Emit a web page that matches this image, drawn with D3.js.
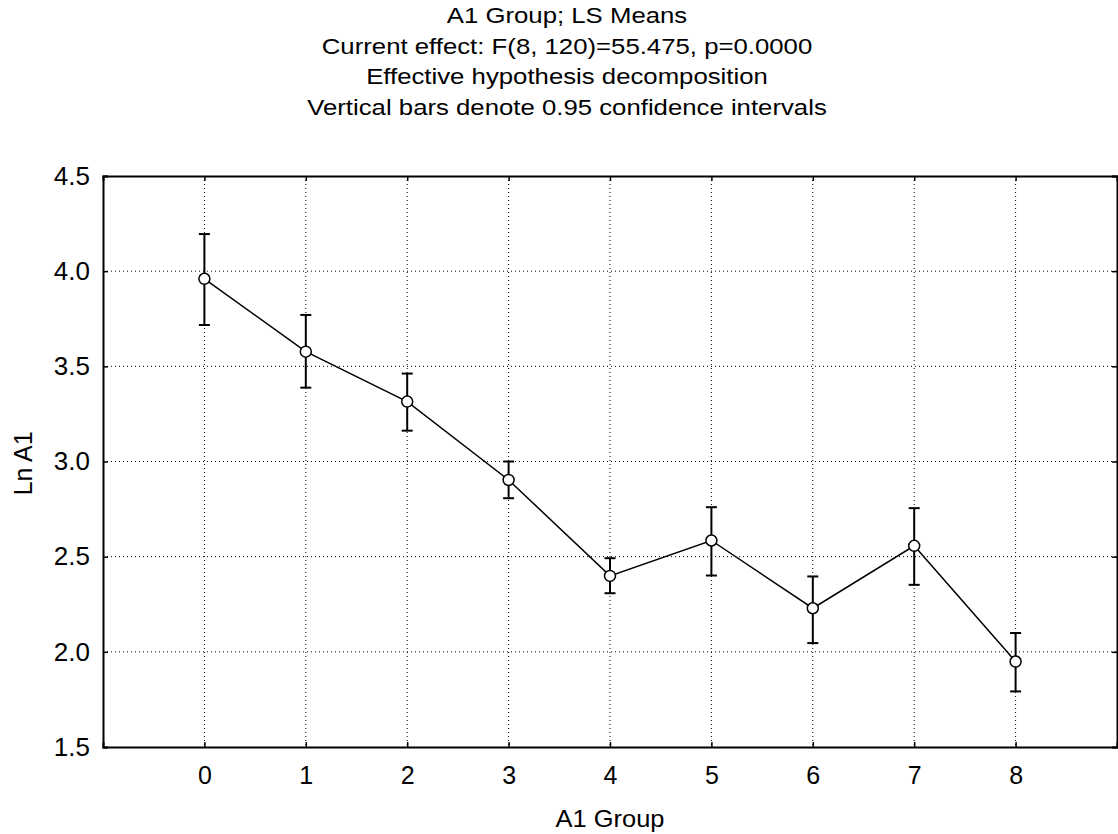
<!DOCTYPE html>
<html>
<head>
<meta charset="utf-8">
<script src="https://cdn.jsdelivr.net/npm/d3@7"></script>
<style>
  body { margin: 0; background: #fff; }
  svg { display: block; }
  text { font-family: "Liberation Sans", Arial, sans-serif; fill: #000; }
</style>
</head>
<body>
<div class="container"></div>
<script>
// chart data
var groups = [0, 1, 2, 3, 4, 5, 6, 7, 8];
var means = [3.96, 3.577, 3.315, 2.903, 2.399, 2.585, 2.229, 2.557, 1.949];
var upper = [4.195, 3.77, 3.462, 3.0, 2.492, 2.76, 2.396, 2.755, 2.099];
var lower = [3.717, 3.388, 3.162, 2.807, 2.308, 2.401, 2.046, 2.352, 1.792];
var yTicks = [1.5, 2.0, 2.5, 3.0, 3.5, 4.0, 4.5];
var titleLines = [
    "A1 Group; LS Means",
    "Current effect: F(8, 120)=55.475, p=0.0000",
    "Effective hypothesis decomposition",
    "Vertical bars denote 0.95 confidence intervals"
];

var loadChart = function () {
    const WIDTH = 1118;
    const HEIGHT = 834;
    var left = 103, right = 1117, top = 176, bottom = 747;

    var svg = d3.select('.container').append('svg')
        .attr('width', WIDTH)
        .attr('height', HEIGHT);

    var xScale = d3.scaleLinear().domain([-1, 9]).range([left, right]);
    var yScale = d3.scaleLinear().domain([1.5, 4.5]).range([bottom, top]);

    // titles (slightly wide lettering, as in the original)
    svg.selectAll('.title').data(titleLines).enter().append('text')
        .attr('class', 'title')
        .attr('transform', function (d, i) {
            return 'translate(567,' + (23 + i * 30.5) + ') scale(1.12,1)';
        })
        .attr('text-anchor', 'middle')
        .style('font-size', '23px')
        .text(function (d) { return d; });

    // dotted grid
    var grid = svg.append('g').attr('stroke', '#000').attr('stroke-width', 1)
        .attr('stroke-dasharray', '1,3');
    grid.selectAll('.vgrid').data(groups).enter().append('line')
        .attr('x1', function (d) { return xScale(d); })
        .attr('x2', function (d) { return xScale(d); })
        .attr('y1', top).attr('y2', bottom);
    grid.selectAll('.hgrid').data(yTicks.slice(1, -1)).enter().append('line')
        .attr('y1', function (d) { return yScale(d); })
        .attr('y2', function (d) { return yScale(d); })
        .attr('x1', left).attr('x2', right);

    // axes with inward ticks
    var xAxis = d3.axisBottom(xScale).tickValues(groups).tickSize(-5).tickPadding(19)
        .tickFormat(d3.format('d'));
    var gx = svg.append('g').attr('transform', 'translate(0,' + bottom + ')').call(xAxis);
    var yAxis = d3.axisLeft(yScale).tickValues(yTicks).tickSize(-5).tickPadding(13)
        .tickFormat(d3.format('.1f'));
    var gy = svg.append('g').attr('transform', 'translate(' + left + ',0)').call(yAxis);
    svg.append('g').attr('transform', 'translate(0,' + top + ')')
        .call(d3.axisTop(xScale).tickValues(groups).tickSize(-5).tickFormat(''));
    svg.append('g').attr('transform', 'translate(' + right + ',0)')
        .call(d3.axisRight(yScale).tickValues(yTicks).tickSize(-5).tickFormat(''));

    svg.selectAll('.domain').attr('stroke', '#000').attr('stroke-width', 2);
    svg.selectAll('.tick line').attr('stroke', '#000').attr('stroke-width', 1.5);
    gx.selectAll('text').style('font-size', '25px');
    gy.selectAll('text').style('font-size', '26px');

    // axis titles
    svg.append('text')
        .attr('transform', 'translate(' + (left + right) / 2 + ',827) scale(1.06,1)')
        .attr('text-anchor', 'middle')
        .style('font-size', '24px')
        .text('A1 Group');
    svg.append('text')
        .attr('transform', 'translate(32,' + yScale(2.99) + ') rotate(-90)')
        .attr('text-anchor', 'middle')
        .style('font-size', '25px')
        .text('Ln A1');

    // error bars
    var bars = svg.append('g').attr('stroke', '#000').attr('stroke-width', 2);
    bars.selectAll('.ci').data(groups).enter().append('line')
        .attr('x1', function (d) { return xScale(d); })
        .attr('x2', function (d) { return xScale(d); })
        .attr('y1', function (d, i) { return yScale(upper[i]); })
        .attr('y2', function (d, i) { return yScale(lower[i]); });
    [upper, lower].forEach(function (arr) {
        bars.selectAll(null).data(groups).enter().append('line')
            .attr('x1', function (d) { return xScale(d) - 5.5; })
            .attr('x2', function (d) { return xScale(d) + 5.5; })
            .attr('y1', function (d, i) { return yScale(arr[i]); })
            .attr('y2', function (d, i) { return yScale(arr[i]); });
    });

    // means line
    var line = d3.line()
        .x(function (d) { return xScale(d); })
        .y(function (d, i) { return yScale(means[i]); });
    svg.append('path').datum(groups)
        .attr('d', line)
        .attr('fill', 'none')
        .attr('stroke', '#000')
        .attr('stroke-width', 1.5);

    svg.selectAll('.pt').data(groups).enter().append('circle')
        .attr('cx', function (d) { return xScale(d); })
        .attr('cy', function (d, i) { return yScale(means[i]); })
        .attr('r', 5.5)
        .attr('fill', '#fff')
        .attr('stroke', '#000')
        .attr('stroke-width', 1.5);
};

window.onload = loadChart;
</script>
</body>
</html>
